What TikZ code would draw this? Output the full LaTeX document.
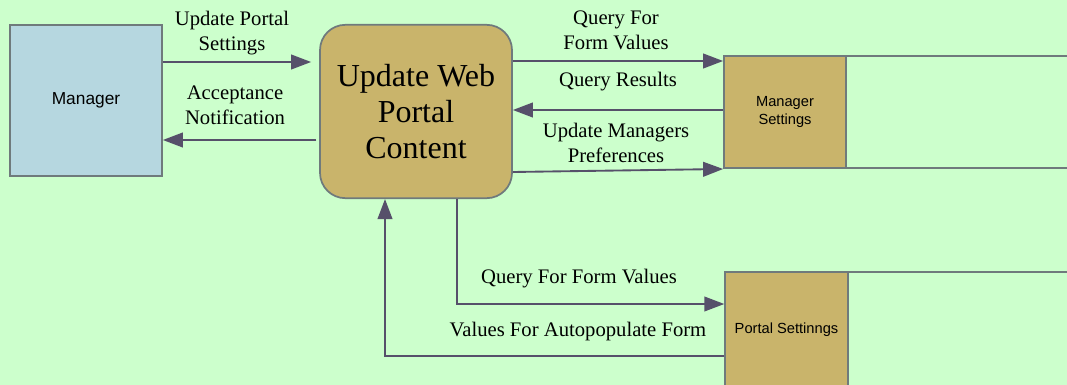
\documentclass[tikz,border=0pt]{standalone}
\usepackage{fontspec}
\setmainfont{Liberation Serif}
\setsansfont{Liberation Sans}
\usetikzlibrary{arrows.meta,positioning,calc}
\definecolor{bggreen}{HTML}{CCFFCC}
\definecolor{mgrblue}{HTML}{B6D7E0}
\definecolor{tan}{HTML}{C9B46B}
\definecolor{edgegray}{HTML}{6F7A7C}
\definecolor{flowgray}{HTML}{56506A}

\tikzset{
  entity/.style={draw=edgegray, line width=1.3pt, fill=mgrblue, font=\sffamily\fontsize{13}{15}\selectfont},
  process/.style={draw=edgegray, line width=1.3pt, fill=tan, rounded corners=19pt, align=center, font=\fontsize{24}{27}\selectfont},
  store/.style={draw=edgegray, line width=1.3pt, fill=tan, align=center, font=\sffamily\fontsize{11}{13}\selectfont},
  flow/.style={draw=flowgray, line width=1.4pt, -{Triangle[length=15pt,width=11pt]}},
  lbl/.style={align=center, font=\fontsize{15.5}{19}\selectfont, inner sep=0pt}
}

\begin{document}
\begin{tikzpicture}[x=0.75pt, y=-0.75pt]
  \useasboundingbox (0,0) rectangle (1067,385);
  \clip (0,0) rectangle (1067,385);
  \fill[bggreen] (0,0) rectangle (1067,385);

  % external entity and process
  \node[entity, minimum width=114pt, minimum height=113pt] (mgr) at (86,100.5) {Manager};
  \node[process, minimum width=144pt, minimum height=130pt] (proc) at (416,111.5) {Update Web\\Portal\\Content};

  % data stores (open on the right)
  \draw[draw=edgegray, line width=1.3pt] (724,56) -- (1070,56) (724,168) -- (1070,168);
  \draw[draw=edgegray, line width=1.3pt] (725,272) -- (1070,272);
  \node[store, minimum width=91.5pt, minimum height=84pt] (ms) at (785,112) {Manager\\Settings};
  \node[store, minimum width=92pt, minimum height=86pt] (ps) at (786.5,329.5) {Portal Settinngs};

  % flows between manager and process
  \draw[flow, shorten >=6pt] (mgr.east |- 0,62) -- (proc.west |- 0,62);
  \draw[flow] ([xshift=-2pt]proc.west |- 0,140) -- (mgr.east |- 0,140);
  \node[lbl] (l1) at (232,33) {Update Portal\\Settings};
  \node[lbl] (l2) at (235,105) {Acceptance\\Notification};

  % flows between process and manager settings
  \draw[flow] (proc.east |- 0,61) -- (ms.west |- 0,61);
  \draw[flow] (ms.west |- 0,110) -- (proc.east |- 0,110);
  \draw[flow] (proc.east |- 0,172) -- (ms.west |- 0,169);
  \node[lbl] (l3) at (616,30) {Query For\\Form Values};
  \node[lbl] (l4) at (618,82) {Query Results};
  \node[lbl] (l5) at (616,143) {Update Managers\\Preferences};

  % flows between process and portal settings
  \coordinate (c1) at (457,304);
  \coordinate (c2) at (385,356);
  \draw[flow] (proc.south -| c1) -- (c1) -- (ps.west |- c1);
  \draw[flow] (ps.west |- c2) -- (c2) -- (proc.south -| c2);
  \node[lbl] (l6) at (579,279) {Query For Form Values};
  \node[lbl] (l7) at (578,332) {Values For Autopopulate Form};
\end{tikzpicture}
\end{document}
